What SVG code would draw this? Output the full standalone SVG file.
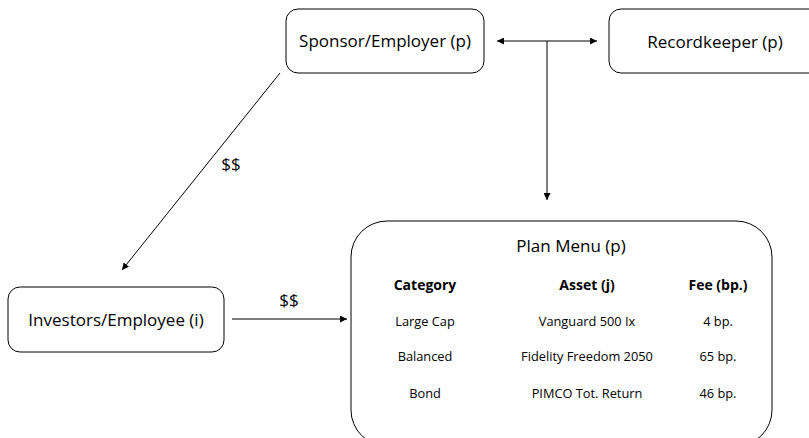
<svg xmlns="http://www.w3.org/2000/svg" width="809" height="438" viewBox="0 0 809 438">
  <style>
    .box { fill: #ffffff; stroke: #000000; stroke-width: 1; }
    .edge { fill: none; stroke: #000000; stroke-width: 1; }
    text { font-family: "Open Sans", Lato, sans-serif; fill: #000000; }
    .lbl { font-size: 17px; text-anchor: middle; }
    .hdr { font-size: 14px; font-weight: bold; text-anchor: middle; }
    .cell { font-size: 12.8px; text-anchor: middle; }
  </style>
  <defs>
    <marker id="arrow" viewBox="0 0 10 10" refX="10" refY="5" markerWidth="7" markerHeight="7" markerUnits="userSpaceOnUse" orient="auto-start-reverse">
      <path d="M0,0 L10,5 L0,10 z" fill="#000000"/>
    </marker>
  </defs>

  <rect width="809" height="438" fill="#ffffff"/>

  <g id="connectors">
    <line class="edge" x1="497" y1="41" x2="597" y2="41" marker-start="url(#arrow)" marker-end="url(#arrow)"/>
    <line class="edge" x1="547" y1="41" x2="547" y2="200" marker-end="url(#arrow)"/>
    <line class="edge" x1="280" y1="73" x2="122" y2="270" marker-end="url(#arrow)"/>
    <line class="edge" x1="232" y1="319" x2="347" y2="319" marker-end="url(#arrow)"/>
    <text class="lbl" x="231" y="170">$$</text>
    <text class="lbl" x="289" y="306">$$</text>
  </g>

  <g id="sponsor">
    <rect class="box" x="286" y="9" width="198" height="64" rx="12"/>
    <text class="lbl" x="385" y="47">Sponsor/Employer (p)</text>
  </g>

  <g id="recordkeeper">
    <rect class="box" x="609" y="9" width="212" height="64" rx="12"/>
    <text class="lbl" x="715" y="48">Recordkeeper (p)</text>
  </g>

  <g id="investors">
    <rect class="box" x="8" y="287" width="216" height="65" rx="12"/>
    <text class="lbl" x="116" y="326">Investors/Employee (i)</text>
  </g>

  <g id="plan-menu">
    <rect class="box" x="351" y="221" width="421" height="225" rx="36"/>
    <text class="lbl" x="571" y="252">Plan Menu (p)</text>
    <text class="hdr" x="425" y="290">Category</text>
    <text class="hdr" x="587" y="290">Asset (j)</text>
    <text class="hdr" x="718" y="290">Fee (bp.)</text>
    <text class="cell" x="425" y="326">Large Cap</text>
    <text class="cell" x="587" y="326">Vanguard 500 Ix</text>
    <text class="cell" x="718" y="326">4 bp.</text>
    <text class="cell" x="425" y="361">Balanced</text>
    <text class="cell" x="587" y="361">Fidelity Freedom 2050</text>
    <text class="cell" x="718" y="361">65 bp.</text>
    <text class="cell" x="425" y="398">Bond</text>
    <text class="cell" x="587" y="398">PIMCO Tot. Return</text>
    <text class="cell" x="718" y="398">46 bp.</text>
  </g>
</svg>
